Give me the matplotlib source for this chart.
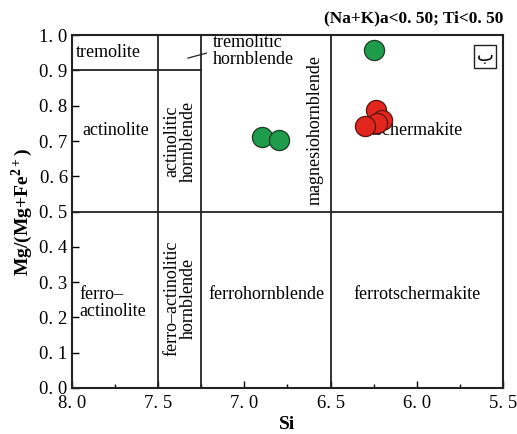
import matplotlib
matplotlib.use("Agg")
import matplotlib.pyplot as plt
import matplotlib.ticker as ticker

plt.rcParams['font.family'] = ['Liberation Serif', 'DejaVu Sans']
plt.rcParams['mathtext.fontset'] = 'custom'
plt.rcParams['mathtext.rm'] = 'Liberation Serif'
plt.rcParams['mathtext.bf'] = 'Liberation Serif:bold'

# sample points (Si, Mg/(Mg+Fe2+))
green_si = [6.90, 6.80, 6.25]
green_mg = [0.712, 0.703, 0.957]
red_si = [6.237, 6.204, 6.233, 6.300]
red_mg = [0.787, 0.759, 0.751, 0.742]

x_ticks = [8.0, 7.5, 7.0, 6.5, 6.0, 5.5]
x_labels = ["8. 0", "7. 5", "7. 0", "6. 5", "6. 0", "5. 5"]
y_ticks = [0.0, 0.1, 0.2, 0.3, 0.4, 0.5, 0.6, 0.7, 0.8, 0.9, 1.0]
y_labels = ["0. 0", "0. 1", "0. 2", "0. 3", "0. 4", "0. 5", "0. 6", "0. 7", "0. 8", "0. 9", "1. 0"]

fig = plt.figure(figsize=(5.17, 4.34), dpi=100)
ax = fig.add_axes([0.139, 0.106, 0.834, 0.813])

ax.set_xlim(8.0, 5.5)
ax.set_ylim(0, 1.0)

# field boundaries
lc = '#222222'
lw = 1.3
ax.axhline(0.5, color=lc, lw=lw)
for xv in [7.5, 7.25, 6.5]:
    ax.axvline(xv, color=lc, lw=lw)
ax.plot([8.0, 7.25], [0.9, 0.9], color=lc, lw=lw)
ax.plot([7.327, 7.22], [0.935, 0.949], color=lc, lw=0.9)

fs = 13
ax.text(7.79, 0.952, "tremolite", fontsize=fs, ha='center', va='center')
ax.text(7.18, 0.955, "tremolitic\nhornblende", fontsize=fs, ha='left', va='center',
        linespacing=0.95)
ax.text(7.745, 0.731, "actinolite", fontsize=fs, ha='center', va='center')
ax.text(7.374, 0.70, "actinolitic\nhornblende", fontsize=fs, ha='center', va='center',
        rotation=90, linespacing=0.95)
ax.text(6.59, 0.73, "magnesiohornblende", fontsize=fs, ha='center', va='center',
        rotation=90)
ax.text(6.0, 0.73, "tschermakite", fontsize=fs, ha='center', va='center')
ax.text(7.955, 0.241, "ferro\u2013\nactinolite", fontsize=fs, ha='left', va='center',
        linespacing=0.95)
ax.text(7.374, 0.255, "ferro\u2013actinolitic\nhornblende", fontsize=fs, ha='center',
        va='center', rotation=90, linespacing=0.95)
ax.text(6.87, 0.266, "ferrohornblende", fontsize=fs, ha='center', va='center')
ax.text(6.0, 0.266, "ferrotschermakite", fontsize=fs, ha='center', va='center')

ax.text(5.604, 0.94, "\u0628", fontsize=13, ha='center', va='center',
        family=['DejaVu Sans'],
        bbox=dict(boxstyle='square,pad=0.15', fc='white', ec='#222222', lw=1.0))

for x, y in zip(green_si, green_mg):
    ax.plot(x, y, 'o', ms=14.5, mfc='#1f9b4c', mec='#1a3a22', mew=0.9, zorder=5)
for x, y in zip(red_si, red_mg):
    ax.plot(x, y, 'o', ms=14.5, mfc='#e0261d', mec='#5a1410', mew=0.9, zorder=5)

ax.set_xticks(x_ticks)
ax.set_xticklabels(x_labels)
ax.xaxis.set_minor_locator(ticker.FixedLocator([7.75, 7.25, 6.75, 6.25, 5.75]))
ax.set_yticks(y_ticks)
ax.set_yticklabels(y_labels)
ax.tick_params(axis='both', which='major', direction='in', length=5, width=1.0,
               labelsize=13.5, pad=5)
ax.tick_params(axis='x', which='minor', direction='in', length=3, width=1.0)
ax.tick_params(axis='y', which='major', pad=3)

for sp in ax.spines.values():
    sp.set_linewidth(1.5)
    sp.set_color('#222222')

ax.set_xlabel("Si", fontsize=14, fontweight='bold', labelpad=3)
ax.set_ylabel(r"Mg/(Mg+Fe$^{\mathbf{2+}}$)", fontsize=14, fontweight='bold', labelpad=3)

fig.text(0.973, 0.958, "(Na+K)a<0. 50; Ti<0. 50", fontsize=12.5, fontweight='bold',
         ha='right', va='center')

fig.savefig("out.png", dpi=100)
